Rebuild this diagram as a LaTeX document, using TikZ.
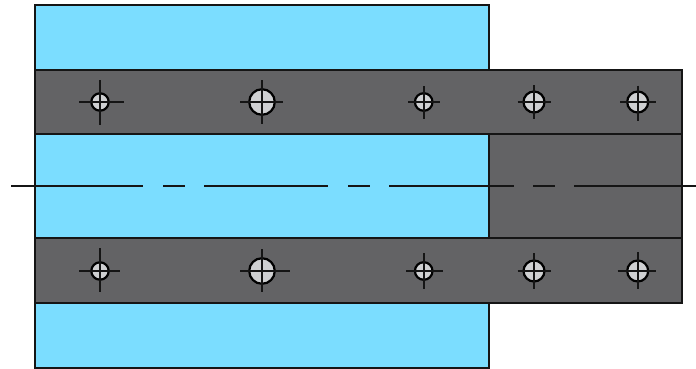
\documentclass[tikz,border=0pt]{standalone}
\definecolor{plateblue}{HTML}{7BDDFF}
\definecolor{bandgray}{HTML}{636365}
\definecolor{holegray}{HTML}{CFD0D2}
\definecolor{inkline}{HTML}{151515}
\tikzset{
  bluepart/.style={fill=plateblue,draw=inkline,line width=2pt},
  graypart/.style={fill=bandgray,draw=inkline,line width=2pt},
  holedisc/.style={fill=holegray,draw=black,line width=2.2pt},
  crossline/.style={draw=inkline,line width=2.3pt},
  axisline/.style={draw=inkline,line width=1.5pt}
}
% cx, cy, r, left, right, top, bottom
\newcommand{\holemark}[7]{%
  \path[holedisc] (#1,#2) circle[radius=#3];
  \path[crossline] (#4,#2) -- (#5,#2) (#1,#6) -- (#1,#7);
}
\begin{document}
\begin{tikzpicture}[x=1pt,y=-1pt]
\useasboundingbox (0,0) rectangle (696,369);
\path[bluepart] (35,5) rectangle (489,367.5);
\path[graypart] (489,134) rectangle (682,238);
\path[graypart] (35,70) rectangle (682,134);
\path[graypart] (35,238) rectangle (682,302.5);
\holemark{100}{102}{8.7}{79}{124}{80}{125}
\holemark{262}{102}{12.8}{240}{283}{80}{124}
\holemark{423.7}{102}{8.8}{408}{440}{86}{119}
\holemark{534}{102}{10.5}{517.5}{550.5}{85}{119}
\holemark{637.7}{102}{10.5}{620}{656}{85.5}{121}
\holemark{100}{271}{8.7}{79}{119.5}{248}{292}
\holemark{262}{271}{12.8}{240}{289.5}{249}{292}
\holemark{423.7}{271}{8.8}{406}{443}{253}{289}
\holemark{534}{271}{10.5}{517.5}{551}{253}{289}
\holemark{637.7}{271}{10.5}{617.5}{656}{252}{289}
\path[axisline] (11,186) -- (143,186) (163,186) -- (185,186)
  (204,186) -- (328,186) (348,186) -- (370,186)
  (389,186) -- (514,186) (533,186) -- (555,186)
  (574,186) -- (696,186);
\end{tikzpicture}
\end{document}
